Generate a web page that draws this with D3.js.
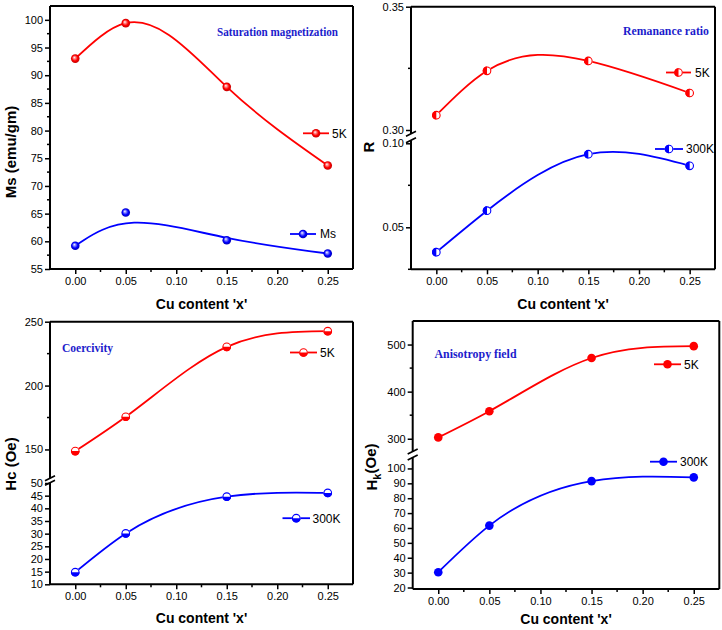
<!DOCTYPE html>
<html><head><meta charset="utf-8">
<script src="https://cdn.jsdelivr.net/npm/d3@7"></script>
<style>body{margin:0;background:#fff}svg{display:block}</style>
</head><body>
<svg id="chart" width="722" height="630"></svg>
<script>
// ---------------- data ----------------
const cuContent = [0.00, 0.05, 0.15, 0.25];
const xTicks = [0.00, 0.05, 0.10, 0.15, 0.20, 0.25];
const xMinorTicks = [0.025, 0.075, 0.125, 0.175, 0.225];

const ms5K   = [93.0, 99.4, 87.9, 73.7];
const ms300K = [59.2, 65.2, 60.2, 57.8];
const r5K    = [0.306, 0.324, 0.328, 0.315];
const r300K  = [0.0352, 0.0599, 0.0935, 0.0866];
const hc5K   = [148.7, 175.6, 230.3, 242.6];
const hc300K = [14.8, 30.1, 44.6, 46.1];
const hk5K   = [302.8, 358.5, 471.4, 496.6];
const hk300K = [30.3, 61.6, 91.5, 94.0];

const msTicks = [55, 60, 65, 70, 75, 80, 85, 90, 95, 100];
const msMinor = [57.5, 62.5, 67.5, 72.5, 77.5, 82.5, 87.5, 92.5, 97.5];
const rUpperTicks = [0.30, 0.35], rUpperMinor = [0.325];
const rLowerTicks = [0.05, 0.10], rLowerMinor = [0.025, 0.075];
const hcUpperTicks = [150, 200, 250], hcUpperMinor = [175, 225];
const hcLowerTicks = [10, 15, 20, 25, 30, 35, 40, 45, 50];
const hkUpperTicks = [300, 400, 500], hkUpperMinor = [350, 450];
const hkLowerTicks = [20, 30, 40, 50, 60, 70, 80, 90, 100];

const legend1 = ["5K", "Ms"];
const legend2 = ["5K", "300K"];

// ---------------- helpers ----------------
const RED = "#ff0000", BLUE = "#0000ff", TITLE = "#1c1ccc";
const SANS = "'Liberation Sans', Arial, sans-serif";
const SERIF = "'Liberation Serif', 'Times New Roman', serif";
const svg = d3.select("#chart");

// natural cubic spline parameterised by x
function NaturalX(ctx){ this._context = ctx; }
NaturalX.prototype = {
  areaStart(){}, areaEnd(){},
  lineStart(){ this._x = []; this._y = []; },
  point(x, y){ this._x.push(+x); this._y.push(+y); },
  lineEnd(){
    const X = this._x, Y = this._y, n = X.length, c = this._context;
    if (!n) return;
    c.moveTo(X[0], Y[0]);
    if (n === 2){ c.lineTo(X[1], Y[1]); return; }
    const h = []; for (let i = 0; i < n - 1; i++) h.push(X[i+1] - X[i]);
    const a = [], b = [], cc = [], d = [];
    for (let i = 1; i < n - 1; i++){
      a.push(h[i-1]); b.push(2 * (h[i-1] + h[i])); cc.push(h[i]);
      d.push(6 * ((Y[i+1] - Y[i]) / h[i] - (Y[i] - Y[i-1]) / h[i-1]));
    }
    const m = b.length;
    for (let i = 1; i < m; i++){ const w = a[i] / b[i-1]; b[i] -= w * cc[i-1]; d[i] -= w * d[i-1]; }
    const sol = new Array(m);
    sol[m-1] = d[m-1] / b[m-1];
    for (let i = m - 2; i >= 0; i--) sol[i] = (d[i] - cc[i] * sol[i+1]) / b[i];
    const M = new Array(n).fill(0);
    for (let i = 0; i < m; i++) M[i+1] = sol[i];
    for (let i = 0; i < n - 1; i++){
      const hi = h[i], s = (Y[i+1] - Y[i]) / hi;
      const dl = s - hi * (2 * M[i] + M[i+1]) / 6;
      const dr = s + hi * (M[i] + 2 * M[i+1]) / 6;
      c.bezierCurveTo(X[i] + hi/3, Y[i] + hi/3 * dl, X[i+1] - hi/3, Y[i+1] - hi/3 * dr, X[i+1], Y[i+1]);
    }
  }
};
const curveNaturalX = ctx => new NaturalX(ctx);

// gradients for shaded spheres
const defs = svg.append("defs");
function sphereGrad(id, light, mid, dark){
  const g = defs.append("radialGradient").attr("id", id)
    .attr("cx", "50%").attr("cy", "50%").attr("r", "55%").attr("fx", "38%").attr("fy", "35%");
  g.append("stop").attr("offset", "0%").attr("stop-color", "#ffffff");
  g.append("stop").attr("offset", "25%").attr("stop-color", light);
  g.append("stop").attr("offset", "60%").attr("stop-color", mid);
  g.append("stop").attr("offset", "100%").attr("stop-color", dark);
}
sphereGrad("sph-red", "#ff8c8c", "#ff0000", "#b80000");
sphereGrad("sph-blue", "#8c8cff", "#0000ff", "#0000a8");

const R = 4.3;
function marker(sel, cx, cy, kind, color){
  const g = sel.append("g").attr("transform", `translate(${cx},${cy})`);
  if (kind === "sphere"){
    g.append("circle").attr("r", R).attr("fill", `url(#${color === RED ? "sph-red" : "sph-blue"})`);
  } else if (kind === "solid"){
    g.append("circle").attr("r", R).attr("fill", color);
  } else {
    g.append("circle").attr("r", R).attr("fill", "#fff");
    const p = kind === "halfLeft"
      ? `M0,${-R}A${R},${R} 0 0 0 0,${R}Z`
      : `M${-R},0A${R},${R} 0 0 0 ${R},0Z`;
    g.append("path").attr("d", p).attr("fill", color);
    g.append("circle").attr("r", R - 0.5).attr("fill", "none").attr("stroke", color).attr("stroke-width", 1.1);
  }
}

function panel(cfg){
  const g = svg.append("g").attr("transform", `translate(${cfg.left},${cfg.top})`);
  const x = d3.scaleLinear().domain([-0.025, 0.275]).range([0, cfg.w]);

  // frame top and right
  g.append("line").attr("x1", 0).attr("x2", cfg.w).attr("y1", 0).attr("y2", 0)
    .attr("stroke", "#000").attr("stroke-width", 2);
  g.append("line").attr("x1", cfg.w).attr("x2", cfg.w).attr("y1", 0).attr("y2", cfg.h)
    .attr("stroke", "#000").attr("stroke-width", 2);

  // x axis
  const xa = g.append("g").attr("transform", `translate(0,${cfg.h})`)
    .call(d3.axisBottom(x).tickValues(xTicks).tickFormat(d3.format(".2f")).tickSize(5).tickPadding(3));
  xa.select(".domain").remove();
  xa.selectAll(".tick line").attr("stroke-width", 1.5);
  xa.selectAll(".tick text").attr("font-family", SANS).attr("font-size", 11).attr("fill", "#000");
  xa.selectAll(".minor").data(xMinorTicks).enter().append("line")
    .attr("x1", d => x(d)).attr("x2", d => x(d)).attr("y1", 0).attr("y2", 3)
    .attr("stroke", "#000").attr("stroke-width", 1.5);
  g.append("line").attr("x1", 0).attr("x2", cfg.w).attr("y1", cfg.h).attr("y2", cfg.h)
    .attr("stroke", "#000").attr("stroke-width", 2);

  // y segments
  const scales = cfg.segs.map(s => {
    const y = d3.scaleLinear().domain(s.domain).range(s.range);
    const ya = g.append("g")
      .call(d3.axisLeft(y).tickValues(s.ticks).tickFormat(d3.format(s.fmt)).tickSize(5).tickPadding(2));
    ya.select(".domain").remove();
    ya.selectAll(".tick line").attr("stroke-width", 1.5);
    ya.selectAll(".tick text").attr("font-family", SANS).attr("font-size", 11).attr("fill", "#000");
    ya.selectAll(".minor").data(s.minor || []).enter().append("line")
      .attr("x1", -3).attr("x2", 0).attr("y1", d => y(d)).attr("y2", d => y(d))
      .attr("stroke", "#000").attr("stroke-width", 1.5);
    g.append("line").attr("x1", 0).attr("x2", 0).attr("y1", s.line[0]).attr("y2", s.line[1])
      .attr("stroke", "#000").attr("stroke-width", 2);
    return y;
  });
  if (cfg.segs.length === 2){
    [cfg.segs[0].line[1], cfg.segs[1].line[0]].forEach(yy => {
      g.append("line").attr("x1", -5).attr("x2", 5).attr("y1", yy + 2.5).attr("y2", yy - 2.5)
        .attr("stroke", "#000").attr("stroke-width", 1.6);
    });
  }

  // series
  cfg.series.forEach(se => {
    const y = scales[se.seg];
    const pts = cuContent.map((c, i) => [c, se.values[i]]);
    const line = d3.line().x(d => x(d[0])).y(d => y(d[1])).curve(se.curve);
    g.append("path").attr("d", line(pts)).attr("fill", "none")
      .attr("stroke", se.color).attr("stroke-width", 1.8);
    pts.forEach(p => marker(g, x(p[0]), y(p[1]), cfg.marker, se.color));
  });

  // legends (global coordinates)
  cfg.legends.forEach(l => {
    svg.append("line").attr("x1", l.x1).attr("x2", l.x2).attr("y1", l.y).attr("y2", l.y)
      .attr("stroke", l.color).attr("stroke-width", 1.8);
    marker(svg, (l.x1 + l.x2) / 2, l.y, cfg.marker, l.color);
    svg.append("text").attr("x", l.tx).attr("y", l.y).attr("dy", "0.36em")
      .attr("font-family", SANS).attr("font-size", 12).attr("fill", "#000").text(l.label);
  });

  // title
  svg.append("text").attr("x", cfg.title.x).attr("y", cfg.title.y)
    .attr("font-family", SERIF).attr("font-weight", "bold").attr("font-size", 11.5)
    .attr("fill", TITLE).attr("textLength", cfg.title.len).attr("lengthAdjust", "spacingAndGlyphs")
    .text(cfg.title.text);

  // x axis title
  svg.append("text").attr("x", cfg.left + cfg.w / 2).attr("y", cfg.top + cfg.h + cfg.xlabOff).attr("dy", "0.36em")
    .attr("text-anchor", "middle").attr("font-family", SANS).attr("font-weight", "bold")
    .attr("font-size", 14).attr("fill", "#000").text("Cu content 'x'");

  // y axis title
  const yt = svg.append("text").attr("transform", `translate(${cfg.ylab.x},${cfg.ylab.y}) rotate(-90)`)
    .attr("text-anchor", "middle").attr("dy", "0.36em").attr("font-family", SANS)
    .attr("font-weight", "bold").attr("font-size", 15).attr("fill", "#000");
  cfg.ylab.parts.forEach(p => {
    const t = yt.append("tspan").text(p.t);
    if (p.dy) t.attr("dy", p.dy);
    if (p.fs) t.attr("font-size", p.fs);
  });
}

// ---------------- panels ----------------
panel({
  left: 50, top: 6, w: 303, h: 263, marker: "sphere", xlabOff: 35,
  segs: [{domain: [55, 102.5], range: [263, 0], ticks: msTicks, minor: msMinor, fmt: "d", line: [0, 263]}],
  series: [
    {values: ms5K, seg: 0, color: RED, curve: curveNaturalX},
    {values: ms300K, seg: 0, color: BLUE, curve: d3.curveBasis}
  ],
  legends: [
    {label: legend1[0], color: RED, x1: 303, x2: 329, y: 133.3, tx: 332},
    {label: legend1[1], color: BLUE, x1: 290, x2: 316, y: 234, tx: 320}
  ],
  title: {text: "Saturation magnetization", x: 217, y: 36, len: 121},
  ylab: {x: 11, y: 152, parts: [{t: "Ms (emu/gm)"}]}
});

panel({
  left: 411, top: 6.7, w: 304, h: 262.6, marker: "halfLeft", xlabOff: 35,
  segs: [
    {domain: [0.30, 0.35], range: [123.3, 0], ticks: rUpperTicks, minor: rUpperMinor, fmt: ".2f", line: [0, 127]},
    {domain: [0.025, 0.10], range: [262.6, 136.6], ticks: rLowerTicks, minor: rLowerMinor, fmt: ".2f", line: [133.5, 262.6]}
  ],
  series: [
    {values: r5K, seg: 0, color: RED, curve: curveNaturalX},
    {values: r300K, seg: 1, color: BLUE, curve: curveNaturalX}
  ],
  legends: [
    {label: legend2[0], color: RED, x1: 666, x2: 691, y: 72.5, tx: 695},
    {label: legend2[1], color: BLUE, x1: 655, x2: 683, y: 149, tx: 686}
  ],
  title: {text: "Remanance ratio", x: 623, y: 35, len: 86},
  ylab: {x: 369, y: 147, parts: [{t: "R"}]}
});

panel({
  left: 50, top: 321.7, w: 303, h: 262.6, marker: "halfBottom", xlabOff: 34,
  segs: [
    {domain: [130, 250], range: [153.3, 0], ticks: hcUpperTicks, minor: hcUpperMinor, fmt: "d", line: [0, 156.5]},
    {domain: [10, 50], range: [262.6, 161.3], ticks: hcLowerTicks, minor: [], fmt: "d", line: [161, 262.6]}
  ],
  series: [
    {values: hc5K, seg: 0, color: RED, curve: curveNaturalX},
    {values: hc300K, seg: 1, color: BLUE, curve: curveNaturalX}
  ],
  legends: [
    {label: legend2[0], color: RED, x1: 290, x2: 317, y: 352.5, tx: 320},
    {label: legend2[1], color: BLUE, x1: 282.5, x2: 310, y: 518.2, tx: 312.5}
  ],
  title: {text: "Coercivity", x: 62, y: 352, len: 51},
  ylab: {x: 11, y: 464, parts: [{t: "Hc (Oe)"}]}
});

panel({
  left: 412.7, top: 321, w: 306.6, h: 268, marker: "solid", xlabOff: 30,
  segs: [
    {domain: [275, 550], range: [129.5, 0], ticks: hkUpperTicks, minor: hkUpperMinor, fmt: "d", line: [0, 130.5]},
    {domain: [19, 105], range: [268, 140], ticks: hkLowerTicks, minor: [], fmt: "d", line: [136.5, 268]}
  ],
  series: [
    {values: hk5K, seg: 0, color: RED, curve: curveNaturalX},
    {values: hk300K, seg: 1, color: BLUE, curve: curveNaturalX}
  ],
  legends: [
    {label: legend2[0], color: RED, x1: 654, x2: 681, y: 364.3, tx: 684},
    {label: legend2[1], color: BLUE, x1: 650, x2: 677, y: 461.7, tx: 680}
  ],
  title: {text: "Anisotropy field", x: 434.5, y: 358, len: 82},
  ylab: {x: 372, y: 467, parts: [{t: "H"}, {t: "k", dy: "0.3em", fs: 11}, {t: "(Oe)", dy: "-0.3em"}]}
});
</script>
</body></html>
